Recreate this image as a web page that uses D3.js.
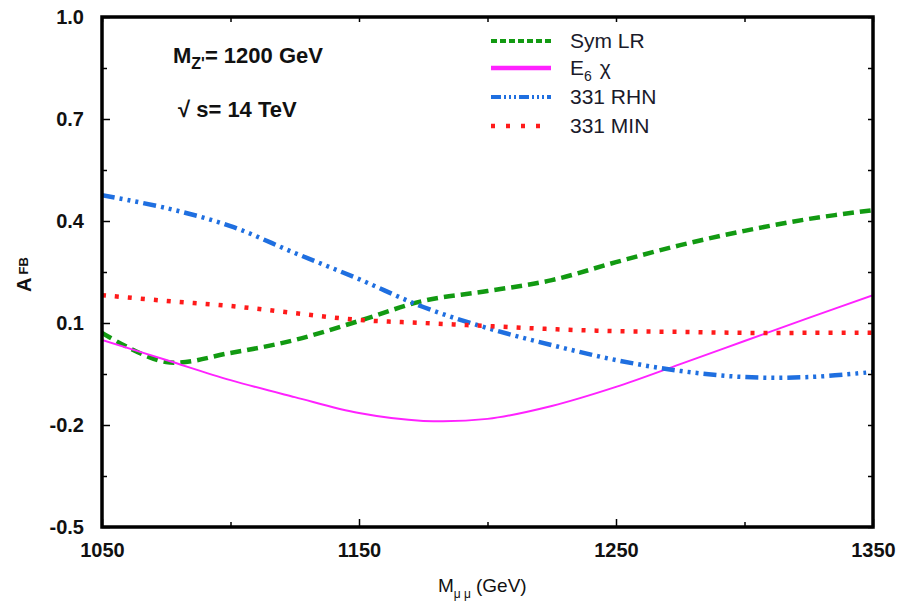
<!DOCTYPE html>
<html>
<head>
<meta charset="utf-8">
<script src="https://cdn.jsdelivr.net/npm/d3@7"></script>
<style>
  body { margin: 0; background: #fff; }
  svg { font-family: "Liberation Sans", Arial, sans-serif; }
</style>
</head>
<body>
<svg width="897" height="605"></svg>
<script>
document.addEventListener("DOMContentLoaded", function () {
  // invariant mass points (GeV)
  const mass = [1050, 1075, 1100, 1125, 1150, 1175, 1200, 1225, 1250, 1275, 1300, 1325, 1350];
  const symLR = [0.071, -0.015, 0.012, 0.05, 0.106, 0.165, 0.194, 0.226, 0.279, 0.329, 0.371, 0.406, 0.432];
  const e6chi = [0.05, -0.009, -0.068, -0.118, -0.165, -0.188, -0.182, -0.144, -0.088, -0.021, 0.047, 0.115, 0.182];
  const rhn331 = [0.476, 0.438, 0.385, 0.306, 0.229, 0.147, 0.085, 0.035, -0.009, -0.041, -0.059, -0.059, -0.044];
  const min331 = [0.182, 0.165, 0.15, 0.129, 0.109, 0.1, 0.091, 0.082, 0.076, 0.074, 0.071, 0.071, 0.071];

  const xTicks = [1050, 1150, 1250, 1350];
  const yTicks = [-0.5, -0.2, 0.1, 0.4, 0.7, 1.0];
  const xMinor = [1100, 1200, 1300];
  const yMinor = [-0.35, -0.05, 0.25, 0.55, 0.85];

  const series = [
    { name: "Sym LR", values: symLR, color: "#129a12", width: 4.5, dash: "11,6", legDash: "6,3", legWidth: 4 },
    { name: "E6 chi", values: e6chi, color: "#ff22ff", width: 2, dash: null, legDash: null, legWidth: 4.5 },
    { name: "331 RHN", values: rhn331, color: "#1f6fe0", width: 4.5, dash: "13,5,3,5,3,5,3,5", legDash: "10,3,2,3,2,3,2,3", legWidth: 4 },
    { name: "331 MIN", values: min331, color: "#ff1a1a", width: 4.5, dash: "4,9", legDash: "4,11", legWidth: 4.5 }
  ];

  const width = 897, height = 605;
  const margin = { top: 17, right: 24, bottom: 78, left: 102 };

  const x = d3.scaleLinear().domain([1050, 1350]).range([margin.left, width - margin.right]);
  const y = d3.scaleLinear().domain([-0.5, 1.0]).range([height - margin.bottom, margin.top]);

  const svg = d3.select("svg");

  svg.append("defs").append("clipPath").attr("id", "clip")
    .append("rect")
    .attr("x", margin.left).attr("y", margin.top)
    .attr("width", width - margin.left - margin.right)
    .attr("height", height - margin.top - margin.bottom);

  const line = d3.line()
    .x((d, i) => x(mass[i]))
    .y((d) => y(d))
    .curve(d3.curveCatmullRom);

  const plot = svg.append("g").attr("clip-path", "url(#clip)");
  series.forEach((s) => {
    plot.append("path")
      .attr("d", line(s.values))
      .attr("fill", "none")
      .attr("stroke", s.color)
      .attr("stroke-width", s.width)
      .attr("stroke-dasharray", s.dash);
  });

  // axes: tick marks on all four sides, pointing inward
  const tickStyle = (g) => {
    g.select(".domain").remove();
    g.selectAll("line").attr("stroke", "#000").attr("stroke-width", 1.5);
  };
  const yFmt = (d) => d.toFixed(1); // plain hyphen minus like the original
  svg.append("g").attr("transform", `translate(0,${y(-0.5)})`)
    .call(d3.axisBottom(x).tickValues(xTicks).tickSize(-8).tickPadding(16).tickFormat(d3.format("d")))
    .call(tickStyle);
  svg.append("g").attr("transform", `translate(0,${y(-0.5)})`)
    .call(d3.axisBottom(x).tickValues(xMinor).tickSize(-5).tickFormat(""))
    .call(tickStyle);
  svg.append("g").attr("transform", `translate(0,${y(1.0)})`)
    .call(d3.axisTop(x).tickValues(xTicks.concat(xMinor)).tickSize(-5).tickFormat(""))
    .call(tickStyle);
  svg.append("g").attr("transform", `translate(${x(1050)},0)`)
    .call(d3.axisLeft(y).tickValues(yTicks).tickSize(-8).tickPadding(18).tickFormat(yFmt))
    .call(tickStyle);
  svg.append("g").attr("transform", `translate(${x(1050)},0)`)
    .call(d3.axisLeft(y).tickValues(yMinor).tickSize(-5).tickFormat(""))
    .call(tickStyle);
  svg.append("g").attr("transform", `translate(${x(1350)},0)`)
    .call(d3.axisRight(y).tickValues(yTicks.concat(yMinor)).tickSize(-5).tickFormat(""))
    .call(tickStyle);

  svg.selectAll(".tick text")
    .attr("font-family", "Liberation Sans, Arial, sans-serif")
    .attr("font-size", 20)
    .attr("font-weight", "bold")
    .attr("fill", "#111");

  // frame
  svg.append("rect")
    .attr("x", x(1050)).attr("y", y(1.0))
    .attr("width", x(1350) - x(1050)).attr("height", y(-0.5) - y(1.0))
    .attr("fill", "none").attr("stroke", "#000").attr("stroke-width", 3.5);

  // legend
  const legY = [41, 68, 97, 126];
  const leg = svg.append("g");
  series.forEach((s, i) => {
    leg.append("line")
      .attr("x1", 491).attr("x2", 551)
      .attr("y1", legY[i]).attr("y2", legY[i])
      .attr("stroke", s.color)
      .attr("stroke-width", s.legWidth)
      .attr("stroke-dasharray", s.legDash);
  });
  const legText = (i) => leg.append("text")
    .attr("x", 570).attr("y", legY[i] + 7)
    .attr("font-size", 21).attr("fill", "#1a1a2a");
  legText(0).text("Sym LR");
  const e6 = legText(1);
  e6.append("tspan").text("E");
  e6.append("tspan").attr("font-size", 14).attr("dy", 6).text("6");
  e6.append("tspan").attr("dy", -6).attr("dx", 8).text("χ");
  legText(2).text("331 RHN");
  legText(3).text("331 MIN");

  // annotations
  const mz = svg.append("text").attr("x", 173).attr("y", 63)
    .attr("font-size", 22).attr("font-weight", "bold").attr("fill", "#111");
  mz.append("tspan").text("M");
  mz.append("tspan").attr("font-size", 16).attr("dy", 6).text("Z'");
  mz.append("tspan").attr("dy", -6).text("= 1200 GeV");

  svg.append("text").attr("x", 178).attr("y", 117)
    .attr("font-size", 22).attr("font-weight", "bold").attr("fill", "#111")
    .text("√ s= 14 TeV");

  // axis titles
  const xt = svg.append("text").attr("x", 438).attr("y", 592)
    .attr("font-size", 19).attr("fill", "#111");
  xt.append("tspan").text("M");
  xt.append("tspan").attr("font-size", 12).attr("dy", 6).text("μ μ");
  xt.append("tspan").attr("dy", -6).attr("dx", 5).text("(GeV)");

  const yt = svg.append("text")
    .attr("transform", "translate(31,292) rotate(-90)")
    .attr("font-size", 20).attr("font-weight", "bold").attr("fill", "#111");
  yt.append("tspan").text("A");
  yt.append("tspan").attr("font-size", 13).attr("dy", -3).attr("dx", 3).text("FB");
});
</script>
</body>
</html>
